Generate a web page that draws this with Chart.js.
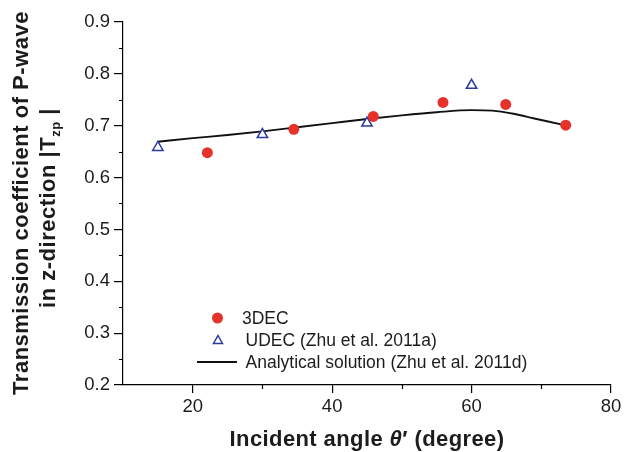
<!DOCTYPE html>
<html>
<head>
<meta charset="utf-8">
<script src="https://cdn.jsdelivr.net/npm/chart.js@4/dist/chart.umd.min.js"></script>
<style>
  html, body { margin: 0; padding: 0; background: #fff; }
  #wrap { width: 628px; height: 452px; }
</style>
</head>
<body>
<div id="wrap"><canvas id="c" width="628" height="452"></canvas></div>
<script>
// 3DEC results: incident angle (deg) and |Tzp|
const dec3Angles = [22.1, 34.5, 45.9, 55.9, 64.9, 73.5];
const dec3Values = [0.648, 0.693, 0.718, 0.745, 0.741, 0.701];

// UDEC results (Zhu et al. 2011a)
const udecAngles = [15, 30, 45, 60];
const udecValues = [0.658, 0.683, 0.705, 0.778];

// Analytical solution (Zhu et al. 2011d)
const solAngles = [15, 20, 25, 30, 35, 40, 45, 50, 55, 60, 63, 66, 69, 73];
const solValues = [0.669, 0.676, 0.682, 0.689, 0.697, 0.705, 0.713, 0.720, 0.726, 0.730, 0.729, 0.723, 0.714, 0.702];

// Axis ticks
const xMajorTicks = [20, 40, 60, 80];
const xMinorTicks = [30, 50, 70];
const yMajorTicks = [0.2, 0.3, 0.4, 0.5, 0.6, 0.7, 0.8, 0.9];
const yMinorTicks = [0.25, 0.35, 0.45, 0.55, 0.65, 0.75, 0.85];

const legendLabels = ['3DEC', 'UDEC (Zhu et al. 2011a)', 'Analytical solution (Zhu et al. 2011d)'];

const RED = '#e5322a';
const BLUE = '#2a3b9e';
const INK = '#1c1c1c';
const FONT = '"Liberation Sans", Arial, Helvetica, sans-serif';

const toXY = (xs, ys) => xs.map((x, i) => ({ x: x, y: ys[i] }));

// Minor tick marks, axis titles and the inset legend
const decorations = {
  id: 'decorations',
  afterDraw(chart) {
    const ctx = chart.ctx;
    const xs = chart.scales.x, ys = chart.scales.y;
    const area = chart.chartArea;
    ctx.save();
    ctx.strokeStyle = '#000';
    ctx.lineWidth = 1.2;
    ctx.beginPath();
    xMinorTicks.forEach(v => {
      const px = Math.round(xs.getPixelForValue(v)) + 0.5;
      ctx.moveTo(px, area.bottom);
      ctx.lineTo(px, area.bottom + 4);
    });
    yMinorTicks.forEach(v => {
      const py = Math.round(ys.getPixelForValue(v)) + 0.5;
      ctx.moveTo(area.left, py);
      ctx.lineTo(area.left - 4, py);
    });
    ctx.stroke();

    // x-axis title
    ctx.fillStyle = INK;
    ctx.textBaseline = 'alphabetic';
    ctx.letterSpacing = '0.4px';
    const bold = 'bold 22px ' + FONT;
    const boldIt = 'italic bold 22px ' + FONT;
    const parts = [['Incident angle ', bold], ['\u03B8', boldIt], ['\u2032 (degree)', bold]];
    let total = 0;
    parts.forEach(p => { ctx.font = p[1]; total += ctx.measureText(p[0]).width; });
    let x0 = (area.left + area.right) / 2 - total / 2;
    parts.forEach(p => {
      ctx.font = p[1];
      ctx.fillText(p[0], x0, 446);
      x0 += ctx.measureText(p[0]).width;
    });

    // y-axis title (two lines, rotated)
    ctx.save();
    ctx.rotate(-Math.PI / 2);
    ctx.letterSpacing = '0.5px';
    ctx.font = bold;
    ctx.textAlign = 'center';
    ctx.fillText('Transmission coefficient of P-wave', -203, 28);
    ctx.textAlign = 'left';
    const l2a = 'in z-direction |T', l2b = 'zp', l2c = ' |';
    const sub = 'bold 13px ' + FONT;
    ctx.font = bold;
    const wa = ctx.measureText(l2a).width;
    const wc = ctx.measureText(l2c).width;
    ctx.font = sub;
    const wb = ctx.measureText(l2b).width;
    const start = -208 - (wa + wb + wc) / 2;
    ctx.font = bold;
    ctx.fillText(l2a, start, 55);
    ctx.font = sub;
    ctx.fillText(l2b, start + wa, 60);
    ctx.font = bold;
    ctx.fillText(l2c, start + wa + wb, 55);
    ctx.restore();

    // legend
    ctx.letterSpacing = '0px';
    ctx.font = '17.5px ' + FONT;
    ctx.textBaseline = 'middle';
    ctx.fillStyle = RED;
    ctx.beginPath();
    ctx.arc(217.5, 318, 5.5, 0, Math.PI * 2);
    ctx.fill();
    ctx.fillStyle = INK;
    ctx.fillText(legendLabels[0], 242, 319);

    ctx.strokeStyle = BLUE;
    ctx.lineWidth = 1.5;
    ctx.beginPath();
    ctx.moveTo(218, 335.5);
    ctx.lineTo(222.5, 343.5);
    ctx.lineTo(213.5, 343.5);
    ctx.closePath();
    ctx.stroke();
    ctx.fillText(legendLabels[1], 245.5, 341);

    ctx.strokeStyle = '#111';
    ctx.lineWidth = 1.8;
    ctx.beginPath();
    ctx.moveTo(197, 362);
    ctx.lineTo(237, 362);
    ctx.stroke();
    ctx.fillText(legendLabels[2], 245.5, 363);
    ctx.restore();
  }
};

new Chart(document.getElementById('c'), {
  type: 'scatter',
  data: {
    datasets: [
      {
        label: legendLabels[2],
        type: 'line',
        data: toXY(solAngles, solValues),
        borderColor: '#111',
        borderWidth: 1.9,
        pointRadius: 0,
        fill: false,
        cubicInterpolationMode: 'monotone',
        order: 3
      },
      {
        label: legendLabels[1],
        data: toXY(udecAngles, udecValues),
        pointStyle: 'triangle',
        pointRadius: 6,
        pointBorderWidth: 1.5,
        pointBorderColor: BLUE,
        pointBackgroundColor: '#fff',
        order: 2
      },
      {
        label: legendLabels[0],
        data: toXY(dec3Angles, dec3Values),
        pointStyle: 'circle',
        pointRadius: 5.5,
        pointBorderWidth: 0,
        pointBackgroundColor: RED,
        order: 1
      }
    ]
  },
  options: {
    responsive: false,
    animation: false,
    devicePixelRatio: 1,
    layout: { padding: { left: 0, top: 22, right: 17, bottom: 0 } },
    plugins: { legend: { display: false }, tooltip: { enabled: false } },
    scales: {
      x: {
        type: 'linear',
        min: 10, max: 80,
        afterBuildTicks: s => { s.ticks = xMajorTicks.map(v => ({ value: v })); },
        afterFit: s => { s.height = 67; },
        border: { display: true, color: '#000', width: 1.2 },
        grid: { drawOnChartArea: false, drawTicks: true, tickLength: 8, color: '#000', lineWidth: 1.2 },
        ticks: { color: INK, font: { family: FONT, size: 18.5 }, padding: 3, maxRotation: 0 }
      },
      y: {
        type: 'linear',
        min: 0.2, max: 0.9,
        afterBuildTicks: s => { s.ticks = yMajorTicks.map(v => ({ value: v })); },
        afterFit: s => { s.width = 123; },
        border: { display: true, color: '#000', width: 1.2 },
        grid: { drawOnChartArea: false, drawTicks: true, tickLength: 9, color: '#000', lineWidth: 1.2 },
        ticks: { color: INK, font: { family: FONT, size: 18.5 }, padding: 4, callback: v => v.toFixed(1) }
      }
    }
  },
  plugins: [decorations]
});
</script>
</body>
</html>
